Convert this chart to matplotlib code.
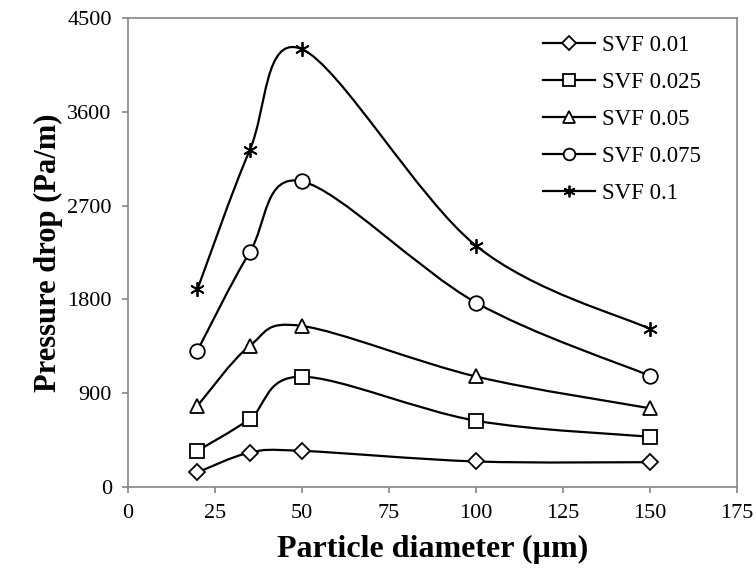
import matplotlib
matplotlib.use('Agg')
import matplotlib.pyplot as plt
import numpy as np
from matplotlib.path import Path
from matplotlib.patches import PathPatch

plt.rcParams['font.family'] = ['Liberation Serif', 'DejaVu Serif']

# particle diameter (um)
diameter = [20, 35, 50, 100, 150]
# pressure drop (Pa/m) per solid volume fraction
svf_001 = [140, 330, 347, 245, 238]
svf_0025 = [347, 652, 1058, 636, 482]
svf_005 = [778, 1353, 1545, 1060, 755]
svf_0075 = [1308, 2250, 2932, 1769, 1066]
svf_01 = [1896, 3228, 4200, 2315, 1515]

labels = ['SVF 0.01', 'SVF 0.025', 'SVF 0.05', 'SVF 0.075', 'SVF 0.1']
series = [svf_001, svf_0025, svf_005, svf_0075, svf_01]
markers = ['D', 's', '^', 'o', (6, 2, 0)]
msizes = [8.5, 10, 10, 10.5, 10.5]

AX_GRAY = '#868686'


def smooth_path(xs, ys):
    # Excel-like smoothed line: Bezier segments with 1/6 tangent control points
    pts = np.column_stack([xs, ys]).astype(float)
    n = len(pts)
    verts = [pts[0]]
    codes = [Path.MOVETO]
    for i in range(n - 1):
        p0 = pts[i - 1] if i > 0 else pts[i]
        p1 = pts[i]
        p2 = pts[i + 1]
        p3 = pts[i + 2] if i + 2 < n else pts[i + 1]
        c1 = p1 + (p2 - p0) / 6.0
        c2 = p2 - (p3 - p1) / 6.0
        verts += [c1, c2, p2]
        codes += [Path.CURVE4] * 3
    return Path(verts, codes)


fig = plt.figure(figsize=(7.56, 5.76), dpi=100)
ax = fig.add_axes([0.169, 0.1545, 0.806, 0.8145])

for ys, lab, m, ms in zip(series, labels, markers, msizes):
    ax.add_patch(PathPatch(smooth_path(diameter, ys), facecolor='none',
                           edgecolor='black', lw=1.6, zorder=2))
    ax.plot(diameter, ys, linestyle='none', marker=m, ms=ms, mfc='white',
            mec='black', mew=1.3, zorder=3)
    # legend proxy
    ax.plot([], [], color='black', lw=1.6, marker=m, ms=ms * 0.8, mfc='white',
            mec='black', mew=1.3, label=lab)

ax.set_xlim(0, 175)
ax.set_ylim(0, 4500)
ax.set_xticks(np.arange(0, 176, 25))
ax.set_yticks(np.arange(0, 4501, 900))

for s in ax.spines.values():
    s.set_color(AX_GRAY)
    s.set_linewidth(1.2)
ax.tick_params(direction='out', length=4.5, width=1.2, color=AX_GRAY,
               labelsize=16, labelcolor='black')
ax.tick_params(axis='x', pad=8)
ax.tick_params(axis='y', pad=7)

ax.set_xlabel('Particle diameter (µm)', fontsize=23, fontweight='bold',
              labelpad=8)
ax.set_ylabel('Pressure drop (Pa/m)', fontsize=22, fontweight='bold',
              labelpad=3)

ax.legend(loc='upper left', bbox_to_anchor=(0.681, 0.964), frameon=False,
          fontsize=16.5, handlelength=2.3, handletextpad=0.3,
          labelspacing=0.7, borderaxespad=0, borderpad=0)

fig.savefig('out.png', dpi=100)
